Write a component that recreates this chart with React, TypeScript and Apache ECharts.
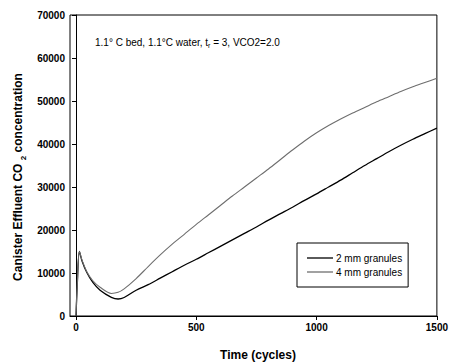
import React, { useEffect, useRef } from "react";
import * as echarts from "echarts";

const cycles = [0, 5, 14, 25, 45, 70, 100, 147, 175, 200, 250, 300, 350, 400, 450, 500, 550, 600, 650, 700, 750, 800, 850, 900, 950, 1000, 1050, 1100, 1150, 1200, 1250, 1300, 1350, 1400, 1450, 1500];
const mm2 = [0, 7000, 15000, 12800, 10100, 7800, 6000, 4350, 3950, 4300, 6000, 7300, 8800, 10300, 11800, 13200, 14700, 16200, 17700, 19200, 20700, 22300, 23800, 25300, 26900, 28400, 30000, 31600, 33300, 35000, 36600, 38200, 39700, 41100, 42400, 43700];
const mm4 = [0, 7000, 15000, 13000, 10300, 8200, 6700, 5250, 5500, 6300, 8700, 11500, 14200, 16700, 19000, 21300, 23500, 25700, 27900, 30000, 32100, 34200, 36400, 38600, 40700, 42600, 44300, 45800, 47200, 48500, 49800, 51000, 52200, 53300, 54300, 55300];
const xTicks = [0, 500, 1000, 1500];
const seriesNames = ["2 mm granules", "4 mm granules"];

export default function App() {
  const ref = useRef<HTMLDivElement>(null);
  useEffect(() => {
    if (!ref.current) return;
    const chart = echarts.init(ref.current, null, { renderer: "svg" });
    const font = "Arial, 'Liberation Sans', sans-serif";
    chart.setOption({
      animation: false,
      backgroundColor: "#fff",
      grid: {
        left: 70,
        right: 11,
        top: 15,
        bottom: 48,
        show: true,
        borderColor: "#000",
        borderWidth: 1,
        backgroundColor: "transparent",
      },
      xAxis: {
        type: "value",
        min: -25,
        max: 1500,
        axisLine: { lineStyle: { color: "#000", width: 1 } },
        axisTick: { show: true, customValues: xTicks, length: 4, lineStyle: { color: "#000" } },
        axisLabel: {
          customValues: xTicks,
          color: "#000",
          fontFamily: font,
          fontWeight: "bold",
          fontSize: 10,
          margin: 6,
          formatter: (v: number) => String(v),
        },
        splitLine: { show: false },
      },
      yAxis: {
        type: "value",
        min: 0,
        max: 70000,
        interval: 10000,
        axisLine: { show: true, lineStyle: { color: "#000", width: 1 } },
        axisTick: { show: true, length: 4, lineStyle: { color: "#000" } },
        axisLabel: {
          color: "#000",
          fontFamily: font,
          fontWeight: "bold",
          fontSize: 10,
          margin: 5,
          formatter: (v: number) => String(v),
        },
        splitLine: { show: false },
      },
      legend: {
        orient: "vertical",
        left: 297,
        top: 243,
        padding: [9, 6, 9, 10],
        icon: "rect",
        itemWidth: 26,
        itemHeight: 1.3,
        itemGap: 2,
        borderColor: "#000",
        borderWidth: 1,
        backgroundColor: "#fff",
        borderRadius: 0,
        textStyle: { color: "#000", fontFamily: font, fontSize: 10, lineHeight: 12, padding: [0, 0, 0, -2] },
        data: seriesNames,
      },
      graphic: [
        {
          type: "text",
          x: 95,
          y: 42,
          style: {
            text: "{a|1.1° C bed, 1.1°C water, t}{s|r}{a| = 3, VCO2=2.0}",
            fill: "#000",
            verticalAlign: "middle",
            rich: {
              a: { fontFamily: font, fontSize: 10, fill: "#000" },
              s: { fontFamily: font, fontSize: 7, fill: "#000", verticalAlign: "bottom", lineHeight: 14 },
            },
          },
        },
        {
          type: "text",
          x: 18,
          y: 177,
          rotation: Math.PI / 2,
          style: {
            text: "{a|Canister Effluent CO }{s|2}{a| concentration}",
            align: "center",
            verticalAlign: "middle",
            rich: {
              a: { fontFamily: font, fontSize: 12, fontWeight: "bold", fill: "#000" },
              s: { fontFamily: font, fontSize: 8, fontWeight: "bold", fill: "#000", verticalAlign: "bottom", lineHeight: 18 },
            },
          },
        },
        {
          type: "text",
          x: 258,
          y: 355,
          style: {
            text: "Time (cycles)",
            fontFamily: font,
            fontSize: 12,
            fontWeight: "bold",
            fill: "#000",
            align: "center",
            verticalAlign: "middle",
          },
        },
      ],
      series: [
        {
          name: seriesNames[0],
          type: "line",
          data: cycles.map((c, i) => [c, mm2[i]]),
          symbol: "none",
          smooth: 0.3,
          lineStyle: { color: "#000", width: 1.3 },
          itemStyle: { color: "#000" },
        },
        {
          name: seriesNames[1],
          type: "line",
          data: cycles.map((c, i) => [c, mm4[i]]),
          symbol: "none",
          smooth: 0.3,
          lineStyle: { color: "#6e6e6e", width: 1.1 },
          itemStyle: { color: "#6e6e6e" },
        },
      ],
    });
    return () => chart.dispose();
  }, []);
  return <div ref={ref} style={{ width: 451, height: 364, position: "absolute", left: 0, top: 0 }} />;
}
